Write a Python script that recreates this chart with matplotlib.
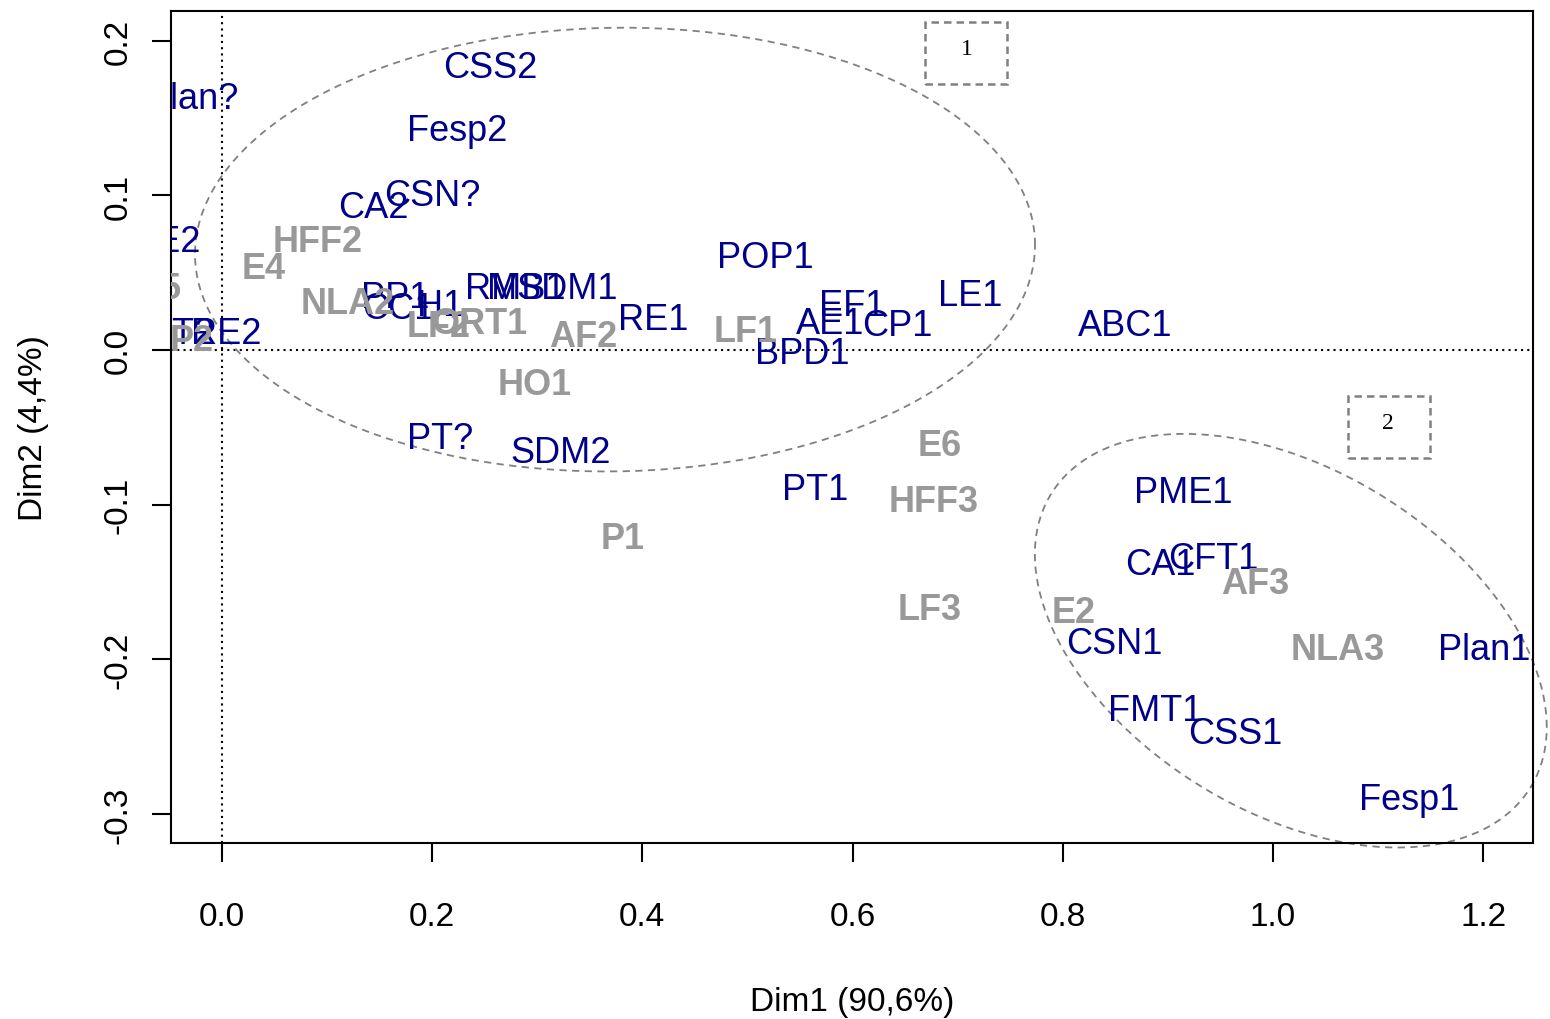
import numpy as np
import matplotlib.pyplot as plt
from matplotlib.patches import Rectangle

plt.rcParams["font.family"] = ["Liberation Sans", "DejaVu Sans"]
plt.rcParams["axes.unicode_minus"] = False

# ROW POINTS (blue)
row_names = ["Plan?", "CSS2", "Fesp2", "CSN?", "CA2", "AE2", "PP1", "CC1", "H1",
             "RMB1", "MSDM1", "RE1", "POP1", "EF1", "AE1", "CP1", "LE1", "BPD1",
             "ABC1", "PT?", "SDM2", "PT1", "PME1", "CA1", "CFT1", "CSN1", "Plan1",
             "FMT1", "CSS1", "Fesp1", "PT2", "RE2"]
row_x = [-0.028, 0.255, 0.224, 0.200, 0.144, -0.052, 0.165, 0.168, 0.208,
         0.279, 0.314, 0.410, 0.517, 0.600, 0.579, 0.643, 0.712, 0.552,
         0.859, 0.208, 0.322, 0.564, 0.915, 0.893, 0.943, 0.849, 1.201,
         0.888, 0.964, 1.130, -0.039, 0.004]
row_y = [0.163, 0.183, 0.142, 0.100, 0.092, 0.070, 0.034, 0.027, 0.029,
         0.040, 0.040, 0.020, 0.060, 0.029, 0.017, 0.016, 0.035, -0.002,
         0.016, -0.057, -0.066, -0.090, -0.092, -0.139, -0.135, -0.190, -0.194,
         -0.233, -0.248, -0.291, 0.011, 0.011]

# COLUMN POINTS (grey, bold)
col_names = ["HFF2", "E4", "NLA2", "LF2", "ORT1", "AF2", "HO1", "LF1", "E6",
             "HFF3", "P1", "LF3", "E2", "AF3", "NLA3", "E5", "P2"]
col_x = [0.091, 0.040, 0.120, 0.206, 0.245, 0.344, 0.298, 0.498, 0.683,
         0.677, 0.381, 0.673, 0.810, 0.983, 1.062, -0.059, -0.029]
col_y = [0.070, 0.053, 0.030, 0.015, 0.017, 0.009, -0.022, 0.012, -0.062,
         -0.098, -0.122, -0.168, -0.170, -0.151, -0.194, 0.040, 0.006]

# CLUSTER ELLIPSES (centre, covariance) AND TAG BOXES
ell_centres = [(0.374, 0.065), (1.017, -0.188)]
ell_covs = [[[0.1597, 0.0012], [0.0012, 0.0206]],
            [[0.0593, -0.0136], [-0.0136, 0.0179]]]
ell_clip = [True, False]
tag_text = ["1", "2"]
tag_xy = [(0.7086, 0.1951), (1.1094, -0.0466)]
box_x = [(0.669, 0.747), (1.071, 1.149)]
box_y = [(0.172, 0.212), (-0.070, -0.030)]

blue = "#00008B"
grey = "#999999"

fig = plt.figure(figsize=(15.5, 10.2), dpi=100)
ax = fig.add_axes([0.1103, 0.1725, 0.8787, 0.8157])
ax.set_xlim(-0.0485, 1.2474)
ax.set_ylim(-0.3189, 0.2193)

ax.axvline(0, color="black", lw=1.5, linestyle=(0, (1, 2)))
ax.axhline(0, color="black", lw=1.5, linestyle=(0, (1, 2)))

t = np.linspace(0, 2 * np.pi, 300)
for c, cov, clip in zip(ell_centres, ell_covs, ell_clip):
    L = np.linalg.cholesky(np.array(cov))
    pts = np.array(c)[:, None] + L @ np.vstack([np.cos(t), np.sin(t)])
    ax.plot(pts[0], pts[1], color="#808080", lw=1.3, linestyle=(0, (4, 3)),
            clip_on=clip)

for (x0, x1), (y0, y1), s, (tx, ty) in zip(box_x, box_y, tag_text, tag_xy):
    ax.add_patch(Rectangle((x0, y0), x1 - x0, y1 - y0, fill=False,
                           edgecolor="#808080", lw=1.8, linestyle=(0, (3, 2))))
    ax.text(tx, ty, s, ha="center", va="center", fontsize=17,
            family="Liberation Serif")

for name, x, y in zip(row_names, row_x, row_y):
    ax.text(x, y, name, color=blue, fontsize=26, ha="center", va="center",
            clip_on=True)
for name, x, y in zip(col_names, col_x, col_y):
    ax.text(x, y, name, color=grey, fontsize=26, fontweight="bold",
            ha="center", va="center", clip_on=True)

ax.set_xticks([0.0, 0.2, 0.4, 0.6, 0.8, 1.0, 1.2])
ax.set_yticks([-0.3, -0.2, -0.1, 0.0, 0.1, 0.2])
ax.set_xticklabels(["0.0", "0.2", "0.4", "0.6", "0.8", "1.0", "1.2"])
ax.set_yticklabels(["-0.3", "-0.2", "-0.1", "0.0", "0.1", "0.2"])
ax.tick_params(axis="both", direction="out", length=14, width=1.5,
               labelsize=24)
ax.tick_params(axis="x", pad=28)
ax.tick_params(axis="y", pad=13, labelrotation=90)
for lab in ax.get_yticklabels():
    lab.set_va("center")
for sp in ax.spines.values():
    sp.set_linewidth(1.5)

ax.set_xlabel("Dim1 (90,6%)", fontsize=24)
ax.set_ylabel("Dim2 (4,4%)", fontsize=24)
ax.xaxis.set_label_coords(0.5, -0.19)
ax.xaxis.label.set_va("center")
ax.yaxis.set_label_coords(-0.101, 0.5)
ax.yaxis.label.set_va("center")

fig.savefig("out.png", dpi=100)
